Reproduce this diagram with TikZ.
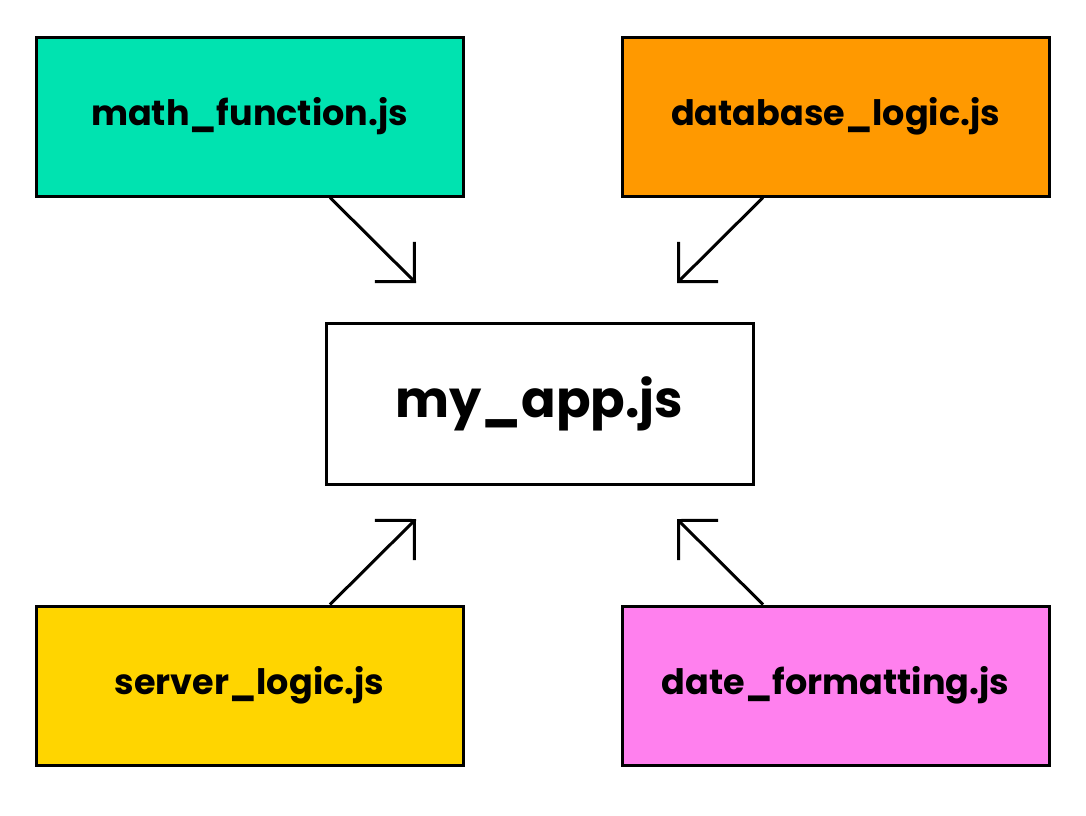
\documentclass[tikz,border=0pt]{standalone}
\usepackage{fontspec}
\setmainfont{Poppins}
\usetikzlibrary{arrows.meta}
\definecolor{mint}{HTML}{00E3B0}
\definecolor{orng}{HTML}{FF9900}
\definecolor{yelw}{HTML}{FFD500}
\definecolor{pnk}{HTML}{FF80EE}
\tikzset{
  filebox/.style={draw=black, line width=3pt, minimum width=427pt, minimum height=159pt, inner sep=0pt, font=\fontsize{35}{42}\selectfont\bfseries},
  mainbox/.style={draw=black, line width=3pt, fill=white, minimum width=427pt, minimum height=161pt, inner sep=0pt, font=\fontsize{51}{60}\selectfont\bfseries},
  conn/.style={line width=3pt, line join=miter, -{Straight Barb[length=28pt,width=56pt,line join=miter]}}
}
\begin{document}
\begin{tikzpicture}[x=1pt,y=-1pt]
\useasboundingbox (0,0) rectangle (1086,815);
\fill[white] (0,0) rectangle (1086,815);
\node[filebox, fill=mint] (math) at (249.5,116.5) {math\_function.js};
\node[filebox, fill=orng] (db) at (835.5,116.5) {database\_logic.js};
\node[mainbox] (app) at (539.5,403.5) {my\_app.js};
\node[filebox, fill=yelw] (srv) at (249.5,685.5) {server\_logic.js};
\node[filebox, fill=pnk] (date) at (835.5,685.5) {date\_formatting.js};
\coordinate (t1) at (416,283);
\coordinate (t2) at (677,283);
\coordinate (t3) at (416,519);
\coordinate (t4) at (677,519);
\draw[conn] (math.south -| 330,0) -- (t1);
\draw[conn] (db.south -| 763,0) -- (t2);
\draw[conn] (srv.north -| 330,0) -- (t3);
\draw[conn] (date.north -| 763,0) -- (t4);
\end{tikzpicture}
\end{document}
